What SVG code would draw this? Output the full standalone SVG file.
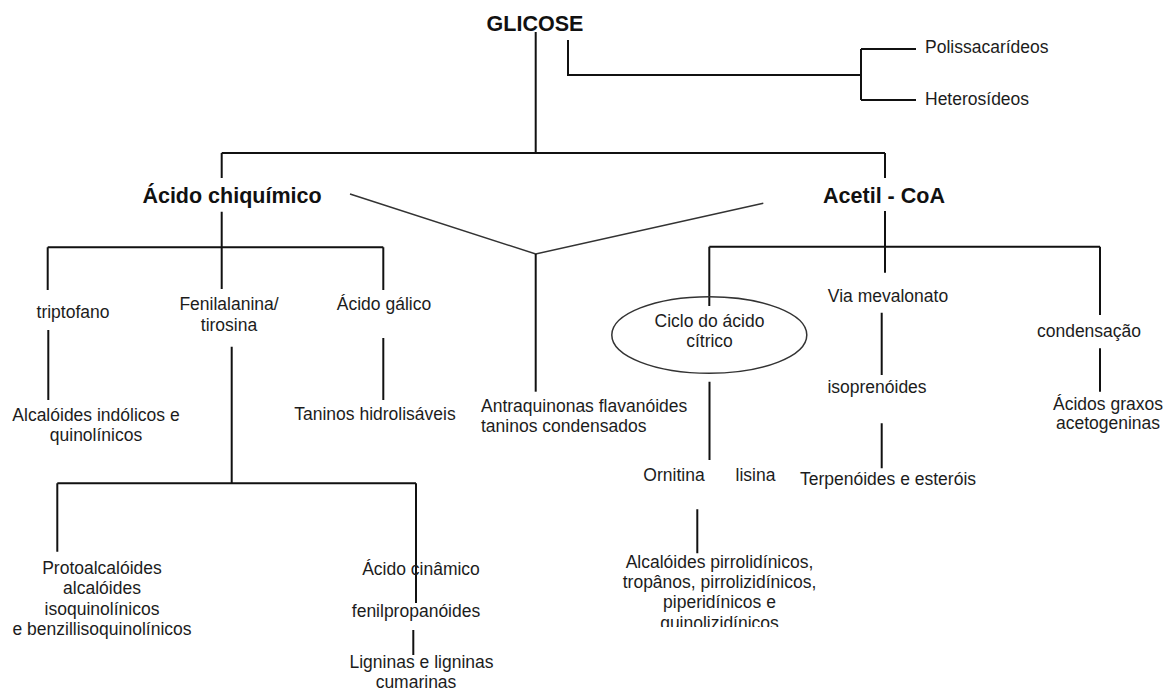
<svg xmlns="http://www.w3.org/2000/svg" width="1165" height="691" viewBox="0 0 1165 691">
<style>
.t{font-family:"Liberation Sans",Arial,sans-serif;font-size:17.5px;fill:#1c1c1c;text-anchor:middle}
.l{text-anchor:start}
.b{font-weight:bold;font-size:21.5px;fill:#111}
.c{fill:none;stroke:#111;stroke-width:2}
.d{fill:none;stroke:#333;stroke-width:1.5}
</style>
<defs><clipPath id="clipq"><rect x="0" y="0" width="1165" height="627"/></clipPath></defs>
<rect width="1165" height="691" fill="#fff"/>
<g id="connectors">
<path class="c" d="M535.7 32V153M221.7 153H885M221.7 153V178M885 153V178"/>
<path class="c" d="M568 40V75H861M861 49V100M861 49H916M861 100H916"/>
<path class="c" d="M221.7 211.7V289M47.7 247.3H383.3M47.7 247.3V290M383.3 247.3V290"/>
<path class="c" d="M48.3 330V400M383.3 338V400M231.7 346.7V483.3M57.3 483.3H416M57.3 483.3V551.7M416 483.3V603M413.3 630V655"/>
<path class="d" d="M350 194L535.7 254L763.3 203.3"/>
<path class="c" d="M535.7 254V391.7"/>
<path class="c" d="M885 211V272.7M709.3 246.7H1100M709.3 246.7V306M1100 246.7V315"/>
<path class="c" d="M709.5 381.7V460M697.3 509.3V553.3"/>
<path class="c" d="M881.7 312.7V375M881.7 423.3V468.3M1100 348.3V391.7"/>
</g>
<g id="glicose"><text class="t b" x="535" y="31">GLICOSE</text></g>
<g id="polissacarideos"><text class="t l" x="925" y="53">Polissacarídeos</text></g>
<g id="heterosideos"><text class="t l" x="925" y="105">Heterosídeos</text></g>
<g id="acido-chiquimico"><text class="t b" x="232" y="203">Ácido chiquímico</text></g>
<g id="acetil-coa"><text class="t b" x="884" y="203">Acetil - CoA</text></g>
<g id="triptofano"><text class="t" x="73" y="318">triptofano</text></g>
<g id="fenilalanina"><text class="t" x="229" y="310">Fenilalanina/<tspan x="229" dy="21">tirosina</tspan></text></g>
<g id="acido-galico"><text class="t" x="384" y="310">Ácido gálico</text></g>
<g id="alcaloides-indolicos"><text class="t" x="96" y="420.5">Alcalóides indólicos e<tspan x="96" dy="20">quinolínicos</tspan></text></g>
<g id="taninos-hidrolisaveis"><text class="t" x="375" y="420">Taninos hidrolisáveis</text></g>
<g id="antraquinonas"><text class="t l" x="481" y="411.5">Antraquinonas flavanóides<tspan x="481" dy="20">taninos condensados</tspan></text></g>
<g id="ciclo"><ellipse cx="709.3" cy="335" rx="97.5" ry="38.3" fill="none" stroke="#333" stroke-width="1.5"/><text class="t" x="709.5" y="326.5">Ciclo do ácido<tspan x="709.5" dy="20">cítrico</tspan></text></g>
<g id="via-mevalonato"><text class="t" x="888" y="301.5">Via mevalonato</text></g>
<g id="condensacao"><text class="t" x="1089" y="336.5">condensação</text></g>
<g id="isoprenoides"><text class="t" x="877" y="393">isoprenóides</text></g>
<g id="acidos-graxos"><text class="t" x="1108" y="410">Ácidos graxos<tspan x="1108" dy="19">acetogeninas</tspan></text></g>
<g id="terpenoides"><text class="t" x="888" y="485">Terpenóides e esteróis</text></g>
<g id="ornitina"><text class="t" x="674" y="481">Ornitina</text></g>
<g id="lisina"><text class="t" x="755.5" y="481">lisina</text></g>
<g id="alcaloides-pirrolidinicos"><text class="t" x="719.5" y="567.5" clip-path="url(#clipq)">Alcalóides pirrolidínicos,<tspan x="719.5" dy="20.5">tropânos, pirrolizidínicos,</tspan><tspan x="719.5" dy="20">piperidínicos e</tspan><tspan x="719.5" dy="20.5">quinolizidínicos</tspan></text></g>
<g id="protoalcaloides"><text class="t" x="102" y="574">Protoalcalóides<tspan x="102" dy="20.3">alcalóides</tspan><tspan x="102" dy="20.3">isoquinolínicos</tspan><tspan x="102" dy="20.3">e benzillisoquinolínicos</tspan></text></g>
<g id="acido-cinamico"><text class="t" x="421" y="575">Ácido cinâmico</text></g>
<g id="fenilpropanoides"><text class="t" x="416" y="616.5">fenilpropanóides</text></g>
<g id="ligninas"><text class="t" x="421.5" y="668">Ligninas e ligninas<tspan x="416" dy="20">cumarinas</tspan></text></g>
</svg>
